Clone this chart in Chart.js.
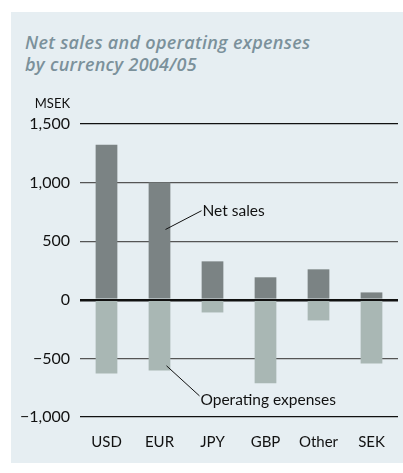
<!DOCTYPE html>
<html>
<head>
<meta charset="utf-8">
<script src="https://cdn.jsdelivr.net/npm/chart.js@4"></script>
<style>
  body { margin: 0; background: #fff; }
  #panel { position: absolute; left: 11px; top: 12px; width: 392px; height: 451px; background: #e6eef2; }
  #title { position: absolute; left: 25px; top: 31px; font: italic 600 18px "Open Sans", sans-serif; letter-spacing: 0.3px; line-height: 22px; color: #7b919b; }
  #wrap { position: absolute; left: 0; top: 0; width: 403px; height: 473px; }
</style>
</head>
<body>
<div id="panel"></div>
<div id="title">Net sales and operating expenses<br>by currency 2004/05</div>
<div id="wrap"><canvas id="chart" width="403" height="473"></canvas></div>
<script>
const categories = ['USD', 'EUR', 'JPY', 'GBP', 'Other', 'SEK'];
const netSales = [1323, 1000, 328, 192, 260, 63];
const operatingExpenses = [-628, -603, -108, -712, -176, -543];
const yTicks = [-1000, -500, 0, 500, 1000, 1500];

const font = { family: 'Lato, sans-serif', size: 15 };

function fmt(v) {
  const s = Math.abs(v).toLocaleString('en-US');
  return v < 0 ? '\u2212' + s : s;
}

// leader lines + labels, anchored to the EUR bars
const notes = {
  id: 'notes',
  afterDatasetsDraw(chart) {
    const { ctx, scales: { x, y } } = chart;
    ctx.save();
    ctx.strokeStyle = '#111';
    ctx.lineWidth = 1;
    ctx.fillStyle = '#111';
    ctx.font = '15.5px Lato, sans-serif';
    ctx.textBaseline = 'middle';
    const bx = x.getPixelForValue(1);
    // Net sales
    let x0 = bx + 6, y0 = y.getPixelForValue(600);
    let x1 = bx + 42, y1 = y.getPixelForValue(760);
    ctx.beginPath(); ctx.moveTo(x0, y0); ctx.lineTo(x1, y1); ctx.stroke();
    ctx.fillText('Net sales', x1 + 1, y1);
    // Operating expenses
    x0 = bx + 7; y0 = y.getPixelForValue(-563);
    x1 = bx + 40; y1 = y.getPixelForValue(-820);
    ctx.beginPath(); ctx.moveTo(x0, y0); ctx.lineTo(x1, y1); ctx.stroke();
    ctx.fillText('Operating expenses', x1 + 1, y.getPixelForValue(-855));
    // unit label
    ctx.font = '13px Lato, sans-serif';
    ctx.textAlign = 'right';
    ctx.fillText('MSEK', 70, y.getPixelForValue(1500) - 20);
    ctx.restore();
  }
};

new Chart(document.getElementById('chart'), {
  type: 'bar',
  data: {
    labels: categories,
    datasets: [
      { label: 'Net sales', data: netSales, backgroundColor: '#7b8384' },
      { label: 'Operating expenses', data: operatingExpenses, backgroundColor: '#a9b7b4' }
    ]
  },
  options: {
    responsive: false,
    animation: false,
    barPercentage: 0.41,
    categoryPercentage: 1,
    layout: { padding: { left: 0, right: 5, top: 124, bottom: 16 } },
    plugins: { legend: { display: false }, tooltip: { enabled: false } },
    scales: {
      x: {
        stacked: true,
        grid: { display: false, drawTicks: false },
        border: { display: false },
        ticks: { color: '#111', font: font, padding: 16 },
        afterFit(s) { s.height = 40; }
      },
      y: {
        stacked: true,
        min: -1000,
        max: 1500,
        afterBuildTicks(s) { s.ticks = yTicks.map(v => ({ value: v })); },
        grid: {
          drawTicks: false,
          color: c => (c.tick && (c.tick.value === 0 || c.tick.value === 1500 || c.tick.value === -1000)) ? '#111' : '#555',
          lineWidth: c => (c.tick && c.tick.value === 0) ? 2.5 : 1.2
        },
        border: { display: false },
        ticks: { color: '#111', font: { family: 'Lato, sans-serif', size: 16 }, padding: 10, callback: v => fmt(v) },
        afterFit(s) { s.width = 80; }
      }
    }
  },
  plugins: [notes]
});
</script>
</body>
</html>
